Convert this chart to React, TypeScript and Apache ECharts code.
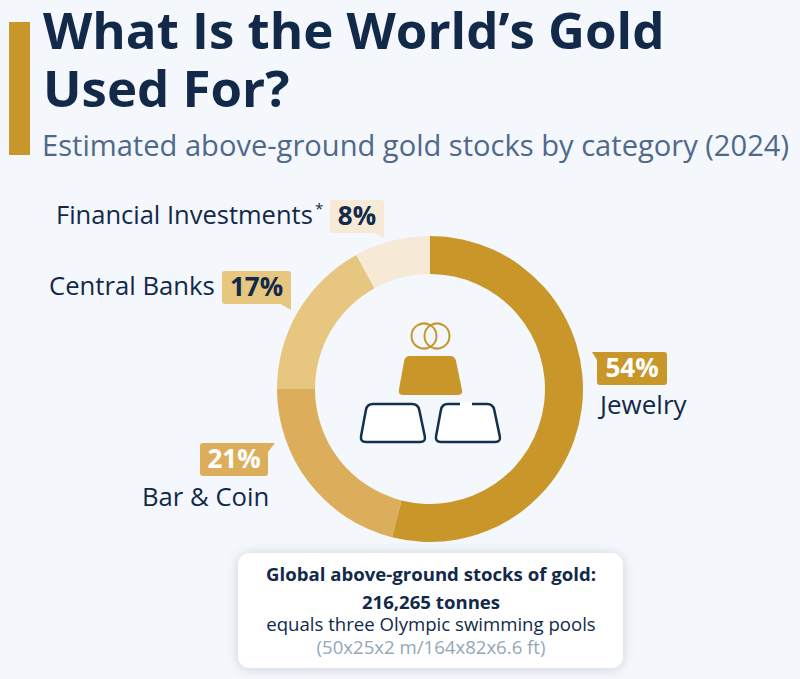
import React, { useEffect, useRef } from "react";
import * as echarts from "echarts";

const title = "What Is the World’s Gold\nUsed For?";
const subtitle = "Estimated above-ground gold stocks by category (2024)";
const categories = ["Jewelry", "Bar & Coin", "Central Banks", "Financial Investments"];
const values = [54, 21, 17, 8];
const colors = ["#c9962a", "#dcae5c", "#e7c680", "#f6ead6"];
const cardLines = [
  "Global above-ground stocks of gold:",
  "216,265 tonnes",
  "equals three Olympic swimming pools",
  "(50x25x2 m/164x82x6.6 ft)",
];

const NAVY = "#12294a";
const FONT = "'Open Sans', 'Noto Sans', sans-serif";

function rounded(pts: number[][], r: number) {
  let d = "";
  const n = pts.length;
  for (let i = 0; i < n; i++) {
    const p = pts[i], a = pts[(i + n - 1) % n], b = pts[(i + 1) % n];
    const la = Math.hypot(a[0] - p[0], a[1] - p[1]);
    const lb = Math.hypot(b[0] - p[0], b[1] - p[1]);
    const s = [p[0] + ((a[0] - p[0]) * r) / la, p[1] + ((a[1] - p[1]) * r) / la];
    const e = [p[0] + ((b[0] - p[0]) * r) / lb, p[1] + ((b[1] - p[1]) * r) / lb];
    d += `${i === 0 ? "M" : "L"}${s[0]} ${s[1]}Q${p[0]} ${p[1]} ${e[0]} ${e[1]}`;
  }
  return d + "Z";
}

echarts.graphic.registerShape(
  "goldBar",
  echarts.graphic.extendPath(rounded([[405, 356], [455, 356], [463, 395], [398, 395]], 5), {})
);
echarts.graphic.registerShape(
  "leftBar",
  echarts.graphic.extendPath(rounded([[367, 404], [418, 404], [426, 442], [360, 442]], 6), {})
);
echarts.graphic.registerShape(
  "rightBar",
  echarts.graphic.extendPath(rounded([[442, 404], [493, 404], [501, 442], [435, 442]], 6), {})
);

function bubble(
  x: number, y: number, w: number, h: number, fill: string,
  tail: number[][], label: string, color: string
) {
  return [
    { type: "polygon", shape: { points: tail }, style: { fill } },
    { type: "rect", shape: { x, y, width: w, height: h, r: 3 }, style: { fill } },
    {
      type: "text", x: x + w / 2, y: y + h / 2 - 1.5,
      style: { text: label, fill: color, font: `700 26px ${FONT}`, textAlign: "center", textVerticalAlign: "middle" },
    },
  ];
}

function label(text: string, x: number, y: number, size = 25.7) {
  return {
    type: "text", x, y,
    style: { text, fill: NAVY, font: `400 ${size}px ${FONT}`, textAlign: "left", textVerticalAlign: "middle" },
  };
}

export default function App() {
  const ref = useRef<HTMLDivElement>(null);
  useEffect(() => {
    document.body.style.margin = "0";
    const chart = echarts.init(ref.current!, undefined, { renderer: "svg" });
    const pct = values.map((v) => `${v}%`);
    const center = (text: string, y: number, font: string, fill: string) => ({
      type: "text", x: 431, y,
      style: { text, font, fill, textAlign: "center", textVerticalAlign: "middle" },
    });
    chart.setOption({
      animation: false,
      backgroundColor: "#f4f7fb",
      series: [
        {
          type: "pie",
          center: [430, 389],
          radius: [115, 153],
          startAngle: 90,
          clockwise: true,
          silent: true,
          label: { show: false },
          labelLine: { show: false },
          data: categories.map((name, i) => ({ name, value: values[i], itemStyle: { color: colors[i] } })),
        },
      ],
      graphic: {
        elements: [
          { type: "rect", shape: { x: 9, y: 22, width: 21, height: 133 }, style: { fill: "#c9962a" } },
          { type: "text", x: 43, y: 0, style: { text: title, fill: NAVY, font: `700 51px ${FONT}`, lineHeight: 58, textVerticalAlign: "top" } },
          { type: "text", x: 42, y: 145, style: { text: subtitle, fill: "#50698a", font: `400 29.1px ${FONT}`, textVerticalAlign: "middle" } },

          ...bubble(330, 200, 54, 33, colors[3], [[372, 232], [384, 232], [384, 238]], pct[3], NAVY),
          ...bubble(222, 271, 69, 33, colors[2], [[279, 303], [291, 303], [291, 310]], pct[2], NAVY),
          ...bubble(200, 443, 68, 33, colors[1], [[262, 443], [275, 443], [268, 452]], pct[1], "#ffffff"),
          ...bubble(597, 352, 70, 33, colors[0], [[592, 352], [603, 352], [597, 360]], pct[0], "#ffffff"),

          label(categories[3], 56, 214, 25.5),
          { type: "text", x: 315, y: 208, style: { text: "*", fill: NAVY, font: `400 15px ${FONT}`, textVerticalAlign: "middle" } },
          label(categories[2], 49, 285),
          label(categories[1], 142, 496),
          label(categories[0], 600, 404, 26),

          { type: "circle", shape: { cx: 424, cy: 336, r: 12.5 }, style: { fill: "none", stroke: "#c9962a", lineWidth: 2 } },
          { type: "circle", shape: { cx: 437, cy: 336, r: 12.5 }, style: { fill: "none", stroke: "#c9962a", lineWidth: 2 } },
          { type: "goldBar", style: { fill: "#c9962a" } },
          { type: "leftBar", style: { fill: "#ffffff", stroke: "#14304f", lineWidth: 2.5 } },
          { type: "rightBar", style: { fill: "#ffffff", stroke: "#14304f", lineWidth: 2.5 } },
          { type: "line", shape: { x1: 460, y1: 404, x2: 472, y2: 404 }, style: { stroke: "#ffffff", lineWidth: 4 } },

          {
            type: "rect", shape: { x: 238, y: 553, width: 385, height: 115, r: 12 },
            style: { fill: "#ffffff", shadowBlur: 12, shadowColor: "rgba(20,40,70,0.16)", shadowOffsetY: 1 },
          },
          center(cardLines[0], 573.5, `700 18.6px ${FONT}`, NAVY),
          center(cardLines[1], 601, `700 18.6px ${FONT}`, NAVY),
          center(cardLines[2], 623.5, `400 18.6px ${FONT}`, NAVY),
          center(cardLines[3], 646, `400 18.6px ${FONT}`, "#94a7b8"),
        ],
      },
    });
    return () => chart.dispose();
  }, []);
  return <div ref={ref} style={{ width: 800, height: 679 }} />;
}
